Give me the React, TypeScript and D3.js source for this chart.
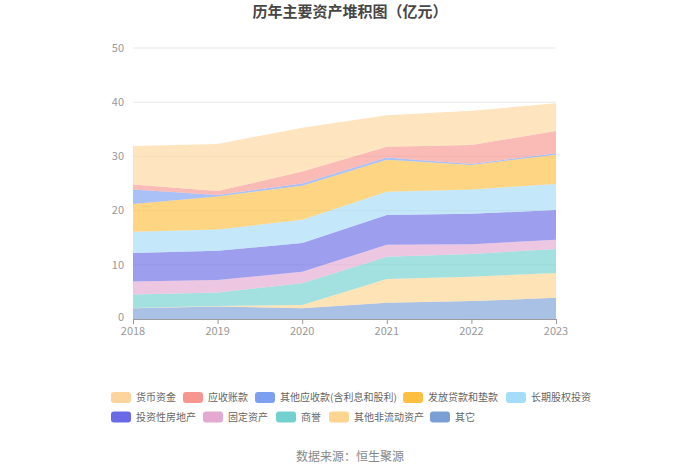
import React from "react";
import * as d3 from "d3";

const years = ["2018", "2019", "2020", "2021", "2022", "2023"];
const yTicks = [0, 10, 20, 30, 40, 50];

// stack order bottom -> top
const qita = [2.0, 2.3, 2.0, 3.0, 3.3, 3.9];
const qitaFeiLiudong = [0.05, 0.1, 0.6, 4.4, 4.5, 4.6];
const shangyu = [2.45, 2.5, 4.0, 4.1, 4.2, 4.4];
const gudingZichan = [2.4, 2.3, 2.1, 2.2, 1.8, 1.7];
const touziFangdichan = [5.3, 5.4, 5.3, 5.5, 5.6, 5.5];
const changqiGuquan = [3.9, 3.9, 4.3, 4.3, 4.5, 4.8];
const fafangDaikuan = [5.1, 6.1, 6.3, 5.9, 4.5, 5.4];
const qitaYingshou = [2.7, 0.3, 0.4, 0.4, 0.2, 0.3];
const yingshouZhangkuan = [0.9, 0.7, 2.2, 2.0, 3.5, 4.1];
const huobiZijin = [7.1, 8.7, 8.1, 5.8, 6.3, 5.1];

const seriesNames = [
  "其它",
  "其他非流动资产",
  "商誉",
  "固定资产",
  "投资性房地产",
  "长期股权投资",
  "发放贷款和垫款",
  "其他应收款(含利息和股利)",
  "应收账款",
  "货币资金",
];
const seriesValues = [
  qita,
  qitaFeiLiudong,
  shangyu,
  gudingZichan,
  touziFangdichan,
  changqiGuquan,
  fafangDaikuan,
  qitaYingshou,
  yingshouZhangkuan,
  huobiZijin,
];
const seriesColors = [
  "#7b9fd5",
  "#fdd490",
  "#72d1cf",
  "#e3a9d1",
  "#6a6ae6",
  "#a5dcf8",
  "#fdbf3f",
  "#7c9ff2",
  "#f7968f",
  "#fdd59c",
];

// legend order (as displayed)
const legendOrder = [
  "货币资金",
  "应收账款",
  "其他应收款(含利息和股利)",
  "发放贷款和垫款",
  "长期股权投资",
  "投资性房地产",
  "固定资产",
  "商誉",
  "其他非流动资产",
  "其它",
];
// layout: legend item left x per row
const legendRows = [
  [111, 183, 255, 403, 506],
  [111, 203, 276, 329, 430],
];
const legendRowY = [397.5, 417];

const W = 700;
const H = 473;
const plot = { left: 133, right: 556, top: 48, bottom: 319 };
const FONT = "'Noto Sans CJK SC', 'Noto Sans', sans-serif";

export default function App() {
  const x = d3
    .scalePoint<string>()
    .domain(years)
    .range([plot.left, plot.right]);
  const y = d3.scaleLinear().domain([0, 50]).range([plot.bottom, plot.top]);

  const table = years.map((yr, i) => {
    const row: Record<string, number | string> = { year: yr };
    seriesNames.forEach((n, k) => (row[n] = seriesValues[k][i]));
    return row;
  });
  const stack = d3.stack<Record<string, number | string>>().keys(seriesNames);
  const stacked = stack(table as any);
  const area = d3
    .area<any>()
    .x((d) => x(d.data.year as string)!)
    .y0((d) => y(d[0]))
    .y1((d) => y(d[1]));

  const colorOf = (name: string) => seriesColors[seriesNames.indexOf(name)];

  return (
    <svg
      width={W}
      height={H}
      style={{ position: "absolute", left: 0, top: 0, fontFamily: FONT }}
    >
      <rect width={W} height={H} fill="#fff" />
      <text
        x={350}
        y={17}
        textAnchor="middle"
        fontSize={15}
        fontWeight="bold"
        fill="#464646"
      >
        历年主要资产堆积图（亿元）
      </text>

      {yTicks.map((t) => (
        <g key={t}>
          {t > 0 && (
            <line
              x1={plot.left}
              x2={plot.right}
              y1={y(t)}
              y2={y(t)}
              stroke="#e9e9e9"
              strokeWidth={1}
            />
          )}
          <text
            x={plot.left - 9}
            y={t === 0 ? y(t) - 2 : y(t)}
            dy="0.35em"
            textAnchor="end"
            fontSize={11}
            fill="#999"
          >
            {t}
          </text>
        </g>
      ))}

      {stacked.map((s, k) => (
        <path
          key={s.key}
          d={area(s as any) || ""}
          fill={seriesColors[k]}
          fillOpacity={0.65}
        />
      ))}

      <line
        x1={plot.left}
        x2={plot.right}
        y1={plot.bottom + 0.5}
        y2={plot.bottom + 0.5}
        stroke="#9a9a9a"
      />
      {years.map((yr) => (
        <g key={yr}>
          <line
            x1={x(yr)! + 0.5}
            x2={x(yr)! + 0.5}
            y1={plot.bottom}
            y2={plot.bottom + 5}
            stroke="#9a9a9a"
          />
          <text
            x={x(yr)}
            y={plot.bottom + 16}
            textAnchor="middle"
            fontSize={11}
            fill="#999"
          >
            {yr}
          </text>
        </g>
      ))}

      {legendOrder.map((name, i) => {
        const row = i < 5 ? 0 : 1;
        const col = i < 5 ? i : i - 5;
        const lx = legendRows[row][col];
        const ly = legendRowY[row];
        return (
          <g key={name}>
            <rect
              x={lx}
              y={ly - 5.5}
              width={20}
              height={11}
              rx={3}
              fill={colorOf(name)}
            />
            <text x={lx + 25} y={ly} dy="0.35em" fontSize={10} fill="#666">
              {name}
            </text>
          </g>
        );
      })}

      <text
        x={350}
        y={461}
        textAnchor="middle"
        fontSize={12}
        fill="#888"
      >
        数据来源：恒生聚源
      </text>
    </svg>
  );
}
